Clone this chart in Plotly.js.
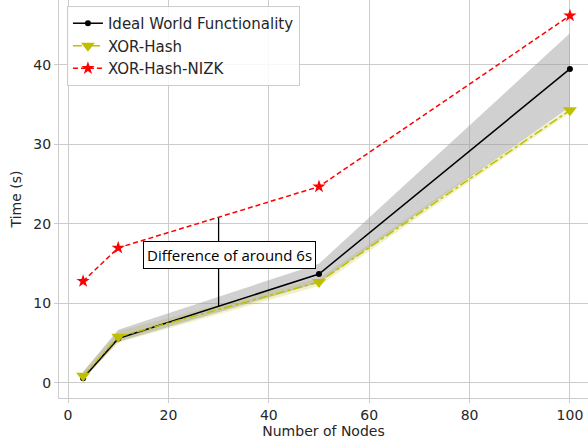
<!DOCTYPE html>
<html>
<head>
<meta charset="utf-8">
<script src="https://cdn.plot.ly/plotly-3.0.1.min.js"></script>
<style>html,body{margin:0;padding:0;background:#fff;}#chart{width:588px;height:446px;}</style>
</head>
<body>
<div id="chart"></div>
<script>
// ---- data ----
const nodes = [3, 10, 50, 100];
const idealTime = [0.6, 5.6, 13.7, 39.5];
const xorHashTime = [0.9, 5.8, 12.7, 34.3];
const nizkTime = [12.8, 17.0, 24.7, 46.2];
// shaded spread around the ideal line
const idealUpper = [1.4, 6.7, 15.0, 44.0];
const idealLower = [0.4, 5.2, 12.6, 34.7];
// pale spread around XOR-Hash
const xorUpper = [1.4, 6.5, 13.2, 34.6];
const xorLower = [0.5, 5.1, 12.2, 34.0];
const xTicks = [0, 20, 40, 60, 80, 100];
const yTicks = [0, 10, 20, 30, 40];
const annotText = 'Difference of around 6s';
const annotX = 30;

function interp(xs, ys, x) {
  for (let i = 0; i < xs.length - 1; i++) {
    if (x >= xs[i] && x <= xs[i+1]) {
      const t = (x - xs[i]) / (xs[i+1] - xs[i]);
      return ys[i] + t * (ys[i+1] - ys[i]);
    }
  }
  return ys[ys.length-1];
}
const annTop = interp(nodes, nizkTime, annotX);
const annBot = interp(nodes, idealTime, annotX);

const traces = [
  {x: nodes, y: xorUpper, mode: 'lines', line: {width: 0}, showlegend: false, hoverinfo: 'skip'},
  {x: nodes, y: xorLower, mode: 'lines', line: {width: 0}, fill: 'tonexty', fillcolor: 'rgba(191,191,0,0.22)', showlegend: false, hoverinfo: 'skip'},
  {x: nodes, y: idealUpper, mode: 'lines', line: {width: 0}, showlegend: false, hoverinfo: 'skip'},
  {x: nodes, y: idealLower, mode: 'lines', line: {width: 0}, fill: 'tonexty', fillcolor: 'rgba(150,150,150,0.45)', showlegend: false, hoverinfo: 'skip'},
  {x: [annotX, annotX], y: [annTop, annBot], mode: 'lines', line: {color: '#000', width: 1.3}, showlegend: false, hoverinfo: 'skip'},
  {x: nodes, y: idealTime, name: 'Ideal World Functionality', mode: 'lines+markers',
   line: {color: '#000000', width: 1.5}, marker: {symbol: 'circle', size: 6, color: '#000000'}},
  {x: nodes, y: xorHashTime, name: 'XOR-Hash', mode: 'lines+markers',
   line: {color: '#bfbf00', width: 1.5, dash: 'dashdot'}, marker: {symbol: 'triangle-down', size: 12, color: '#bfbf00'}},
  {x: nodes, y: nizkTime, name: 'XOR-Hash-NIZK', mode: 'lines+markers',
   line: {color: '#ff0000', width: 1.5, dash: '5px,3px'}, marker: {symbol: 'star', size: 10, color: '#ff0000'}}
];

const tickFont = {family: 'DejaVu Sans', size: 14, color: '#262626'};
const layout = {
  width: 588, height: 446,
  margin: {l: 59, r: 0, t: 0, b: 48},
  paper_bgcolor: '#ffffff', plot_bgcolor: '#ffffff',
  font: tickFont,
  showlegend: true,
  legend: {x: 0.015, y: 0.985, xanchor: 'left', yanchor: 'top', traceorder: 'normal',
           bgcolor: 'rgba(255,255,255,0.85)', bordercolor: '#cccccc', borderwidth: 1,
           font: {family: 'DejaVu Sans', size: 15, color: '#262626'}, tracegroupgap: 0},
  xaxis: {range: [-1.8, 103.6], tickvals: xTicks, ticktext: xTicks.map(String),
          showgrid: true, gridcolor: '#cccccc', gridwidth: 1, zeroline: false,
          showline: true, linecolor: '#cccccc', linewidth: 1,
          ticks: 'outside', ticklen: 4, tickcolor: '#cccccc', tickfont: tickFont,
          title: {text: 'Number of Nodes', font: {family: 'DejaVu Sans', size: 14, color: '#262626'}, standoff: 4}},
  yaxis: {range: [-1.89, 48.17], tickvals: yTicks, ticktext: yTicks.map(String),
          showgrid: true, gridcolor: '#cccccc', gridwidth: 1, zeroline: false,
          showline: true, linecolor: '#cccccc', linewidth: 1,
          ticks: 'outside', ticklen: 4, tickcolor: '#cccccc', tickfont: tickFont,
          title: {text: 'Time (s)', font: {family: 'DejaVu Sans', size: 14, color: '#262626'}, standoff: 8}},
  annotations: [{x: annotX, y: (annTop + annBot) / 2 + 0.9, xref: 'x', yref: 'y', xshift: 11, text: annotText, showarrow: false,
                 font: {family: 'Open Sans', size: 15, color: '#000'}, bgcolor: '#ffffff', bordercolor: '#000000',
                 borderwidth: 1, borderpad: 3}]
};
Plotly.newPlot('chart', traces, layout, {displayModeBar: false, staticPlot: true});
</script>
</body>
</html>
